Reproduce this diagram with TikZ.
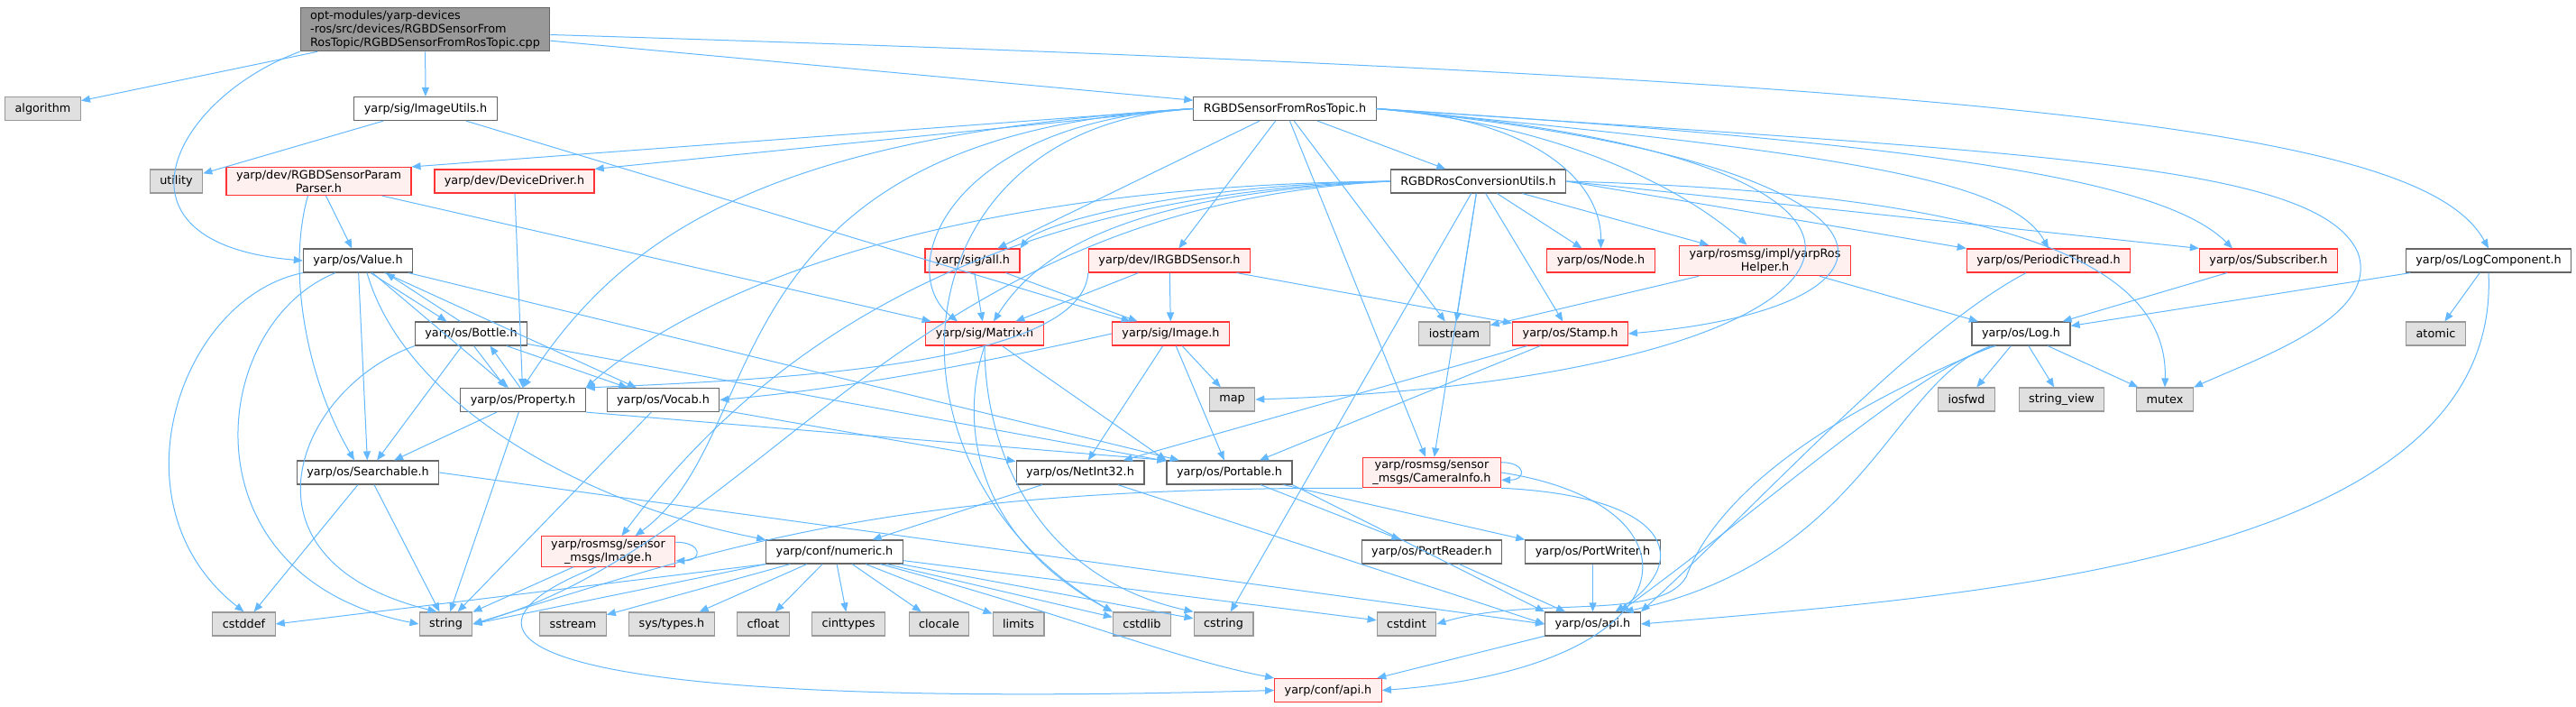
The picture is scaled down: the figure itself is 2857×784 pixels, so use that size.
\documentclass[tikz,border=0pt]{standalone}
\usepackage{fontspec}
\setmainfont{DejaVu Sans}
\usetikzlibrary{arrows.meta}
\definecolor{azulSeta}{HTML}{63B8FF}
\definecolor{bordaCinza}{HTML}{666666}
\definecolor{bordaSis}{HTML}{999999}
\definecolor{fundoSis}{HTML}{E0E0E0}
\definecolor{bordaVerm}{HTML}{FF3333}
\definecolor{fundoVerm}{HTML}{FFF0F0}
\definecolor{fundoPrinc}{HTML}{999999}

\begin{document}
\begin{tikzpicture}[
    x=1pt, y=-1pt,
    bloco/.style={
        draw=bordaCinza,
        fill=white,
        line width=1.2pt,
        font=\fontsize{12.8}{15}\selectfont,
        align=center,
        inner xsep=11pt,
        inner ysep=3pt,
        minimum height=26pt
    },
    blocoSis/.style={bloco, draw=bordaSis, fill=fundoSis},
    blocoVerm/.style={bloco, draw=bordaVerm, fill=fundoVerm},
    blocoPrinc/.style={bloco, fill=fundoPrinc, align=left},
    seta/.style={
        -{Triangle[length=10pt,width=8pt]},
        draw=azulSeta,
        fill=none,
        line width=1pt
    }
]

\useasboundingbox (0,0) rectangle (2857,784);

% Arquivo principal
\node[blocoPrinc] (main) at (471.5,32.5)
{
    opt-modules/yarp-devices\\
    -ros/src/devices/RGBDSensorFrom\\
    RosTopic/RGBDSensorFromRosTopic.cpp
};

% Primeira fila
\node[blocoSis] (algo) at (47.5,120.5) {algorithm};
\node[bloco] (imgutils) at (472,120.5) {yarp/sig/ImageUtils.h};
\node[bloco] (rft) at (1425,120.5) {RGBDSensorFromRosTopic.h};

% Segunda fila
\node[blocoSis] (utility) at (195.5,201) {utility};
\node[blocoVerm] (param) at (353.5,201) {yarp/dev/RGBDSensorParam\\Parser.h};
\node[blocoVerm] (devdrv) at (570.5,201) {yarp/dev/DeviceDriver.h};
\node[bloco] (rcu) at (1639.5,201) {RGBDRosConversionUtils.h};

% Terceira fila
\node[bloco] (value) at (397,289) {yarp/os/Value.h};
\node[blocoVerm] (sigall) at (1078.5,289) {yarp/sig/all.h};
\node[blocoVerm] (irgbd) at (1297,289) {yarp/dev/IRGBDSensor.h};
\node[blocoVerm] (node) at (1775.5,289) {yarp/os/Node.h};
\node[blocoVerm] (roshelper) at (1957.5,289) {yarp/rosmsg/impl/yarpRos\\Helper.h};
\node[blocoVerm] (pthread) at (2272,289) {yarp/os/PeriodicThread.h};
\node[blocoVerm] (subscr) at (2516,289) {yarp/os/Subscriber.h};
\node[bloco] (logcomp) at (2760,289) {yarp/os/LogComponent.h};

% Quarta fila
\node[bloco] (bottle) at (522.5,370) {yarp/os/Bottle.h};
\node[blocoVerm] (matrix) at (1092,370) {yarp/sig/Matrix.h};
\node[blocoVerm] (sigimg) at (1298.5,370) {yarp/sig/Image.h};
\node[blocoSis] (iostream) at (1613,370) {iostream};
\node[blocoVerm] (stamp) at (1741.5,370) {yarp/os/Stamp.h};
\node[bloco] (log) at (2241.5,370) {yarp/os/Log.h};
\node[blocoSis] (atomic) at (2701.5,370) {atomic};

% Quinta fila
\node[bloco] (prop) at (580,443.5) {yarp/os/Property.h};
\node[bloco] (vocab) at (735.5,443.5) {yarp/os/Vocab.h};
\node[blocoSis] (map) at (1366.5,443) {map};
\node[blocoSis] (iosfwd) at (2181,443) {iosfwd};
\node[blocoSis] (strview) at (2286.5,443) {string\_view};
\node[blocoSis] (mutex) at (2401,443) {mutex};

% Sexta fila
\node[bloco] (search) at (408,524) {yarp/os/Searchable.h};
\node[bloco] (netint) at (1198,524) {yarp/os/NetInt32.h};
\node[bloco] (portable) at (1363.5,524) {yarp/os/Portable.h};
\node[blocoVerm] (caminfo) at (1588,524) {yarp/rosmsg/sensor\\\_msgs/CameraInfo.h};

% Setima fila
\node[blocoVerm] (rosimg) at (674.5,611.5) {yarp/rosmsg/sensor\\\_msgs/Image.h};
\node[bloco] (numeric) at (925.5,612) {yarp/conf/numeric.h};
\node[bloco] (preader) at (1588,612) {yarp/os/PortReader.h};
\node[bloco] (pwriter) at (1766.5,612) {yarp/os/PortWriter.h};

% Cabecalhos do sistema
\node[blocoSis] (cstddef) at (270.5,692) {cstddef};
\node[blocoSis] (string) at (494.5,692) {string};
\node[blocoSis] (sstream) at (635.5,692) {sstream};
\node[blocoSis] (systypes) at (745,692) {sys/types.h};
\node[blocoSis] (cfloat) at (846.5,692) {cfloat};
\node[blocoSis] (cinttypes) at (941,692) {cinttypes};
\node[blocoSis] (clocale) at (1041.5,692) {clocale};
\node[blocoSis] (limits) at (1129.5,692) {limits};
\node[blocoSis] (cstdlib) at (1266.5,692) {cstdlib};
\node[blocoSis] (cstring) at (1357,692) {cstring};
\node[blocoSis] (cstdint) at (1560,692) {cstdint};
\node[bloco] (osapi) at (1766.5,692) {yarp/os/api.h};
\node[blocoVerm] (confapi) at (1473,765.5) {yarp/conf/api.h};

% Setas do arquivo principal
\draw[seta] (main) -- (algo);
\draw[seta] (main) -- (imgutils);
\draw[seta] (main.south west) .. controls (190,110) and (110,270) .. (value.west);
\draw[seta] (main) -- (rft);
\draw[seta] ([yshift=-6pt]main.east) .. controls (2300,90) and (2690,150) .. (logcomp.north);

% Setas de ImageUtils e dos parsers
\draw[seta] (imgutils) -- (utility);
\draw[seta] (imgutils) -- (sigimg);
\draw[seta] (param) -- (value);
\draw[seta] ([xshift=-12pt]param.south) .. controls (318,300) and (340,420) .. ([xshift=-15pt]search.north);
\draw[seta] (param) -- (matrix);
\draw[seta] (devdrv) -- (prop);

% Setas de RGBDSensorFromRosTopic.h
\draw[seta] (rft.west) -- (param.north east);
\draw[seta] (rft.west) -- (devdrv.north east);
\draw[seta] (rft.west) .. controls (850,150) and (690,260) .. (prop.north);
\draw[seta] (rft.west) .. controls (780,150) and (860,480) .. ([xshift=30pt]rosimg.north);
\draw[seta] (rft) -- (sigall);
\draw[seta] (rft.west) .. controls (1050,135) and (990,300) .. ([xshift=-30pt]matrix.north);
\draw[seta] (rft) -- (irgbd);
\draw[seta] (rft) -- (rcu);
\draw[seta] (rft) -- (iostream);
\draw[seta] (rft) -- (caminfo);
\draw[seta] (rft.west) .. controls (990,140) and (960,520) .. (cstdlib.north west);
\draw[seta] (rft.east) .. controls (1700,130) and (1776,200) .. (node.north);
\draw[seta] (rft.east) .. controls (1750,140) and (1880,220) .. ([xshift=-20pt]roshelper.north);
\draw[seta] (rft.east) .. controls (2050,170) and (2230,200) .. (pthread.north);
\draw[seta] (rft.east) .. controls (2150,160) and (2400,200) .. ([xshift=-40pt]subscr.north);
\draw[seta] (rft.east) .. controls (2150,180) and (2150,340) .. (stamp.east);
\draw[seta] (rft.east) .. controls (2250,180) and (2100,420) .. (map.east);
\draw[seta] (rft.east) .. controls (2250,170) and (2570,180) .. (2615,280)
    .. controls (2640,350) and (2510,395) .. (mutex.north east);

% Setas de RGBDRosConversionUtils.h
\draw[seta] (rcu.west) .. controls (1300,205) and (1150,250) .. (sigall.north east);
\draw[seta] (rcu.west) .. controls (1250,215) and (1150,280) .. ([xshift=10pt]matrix.north);
\draw[seta] (rcu.west) .. controls (1100,205) and (800,300) .. (prop.north east);
\draw[seta] (rcu.west) .. controls (1100,215) and (850,380) .. ([xshift=15pt]rosimg.north);
\draw[seta] (rcu.west) .. controls (1000,230) and (850,600) .. (string.east);
\draw[seta] (rcu) -- (iostream);
\draw[seta] (rcu) -- (stamp);
\draw[seta] (rcu) -- (node);
\draw[seta] (rcu) -- (roshelper);
\draw[seta] (rcu.east) -- (pthread.north west);
\draw[seta] (rcu.east) -- (subscr.north west);
\draw[seta] (rcu.east) .. controls (2250,215) and (2405,300) .. (mutex.north);
\draw[seta] (rcu) -- (cstring);
\draw[seta] (rcu) -- (caminfo);

% Setas de sig e dev
\draw[seta] (sigall) -- (matrix);
\draw[seta] (sigall) -- (sigimg);
\draw[seta] (irgbd) -- (matrix);
\draw[seta] (irgbd) -- (sigimg);
\draw[seta] (irgbd) -- (stamp);
\draw[seta] (irgbd.south west) .. controls (1200,400) and (900,420) .. (prop.north east);
\draw[seta] (sigimg) -- (map);
\draw[seta] (sigimg) -- (netint);
\draw[seta] (sigimg) -- (portable);
\draw[seta] (sigimg.west) .. controls (1100,400) and (950,430) .. (vocab.east);
\draw[seta] (matrix) -- (portable.north west);
\draw[seta] (matrix.south) .. controls (1060,480) and (1090,600) .. (cstdlib.north west);
\draw[seta] (matrix.south) .. controls (1092,500) and (1150,640) .. (cstring.north west);

% Setas de Stamp, Helper e threads
\draw[seta] (stamp) -- (netint);
\draw[seta] (stamp) -- (portable);
\draw[seta] (roshelper) -- (iostream);
\draw[seta] (roshelper) -- (log);
\draw[seta] ([xshift=-25pt]pthread.south) .. controls (2120,370) and (1950,560) .. (osapi.north east);

% Setas de Log
\draw[seta] (log) -- (iosfwd);
\draw[seta] (log) -- (strview);
\draw[seta] (log) -- (mutex);
\draw[seta] ([xshift=-28pt]log.south) .. controls (2130,405) and (1960,560) .. ([xshift=30pt]osapi.north);
\draw[seta] ([xshift=-30pt]log.south) .. controls (2000,470) and (1900,560) .. (1870,640)
    .. controls (1840,690) and (1700,660) .. (cstdint.east);
\draw[seta] ([xshift=-33pt]log.south) .. controls (2100,420) and (2070,620) .. ([xshift=35pt]osapi.north);
\draw[seta] (subscr) -- (log);
\draw[seta] (logcomp) -- (log);
\draw[seta] (logcomp) -- (atomic);
\draw[seta] (logcomp.south) .. controls (2775,620) and (2200,660) .. (osapi.east);

% Setas de Value, Bottle e Property
\draw[seta] (value.south west) .. controls (200,330) and (120,560) .. (cstddef.north);
\draw[seta] ([xshift=-25pt]value.south) .. controls (230,360) and (200,640) .. (string.west);
\draw[seta] (value) -- (search);
\draw[seta] ([xshift=14pt]value.south) -- ([xshift=-27pt]bottle.north);
\draw[seta] ([xshift=-12pt]bottle.north) -- ([xshift=31pt]value.south);
\draw[seta] (value) -- (prop);
\draw[seta] (value) -- (vocab);
\draw[seta] (value) -- (portable);
\draw[seta] ([xshift=10pt]value.south) .. controls (450,450) and (650,560) .. (numeric.north west);
\draw[seta] ([xshift=3pt]bottle.south) -- ([xshift=-19pt]prop.north);
\draw[seta] ([xshift=-3pt]prop.north) -- ([xshift=21pt]bottle.south);
\draw[seta] (bottle) -- (search);
\draw[seta] (bottle.south west) .. controls (330,430) and (250,620) .. ([xshift=-10pt]string.north);
\draw[seta] (bottle) -- (vocab);
\draw[seta] (bottle) -- (portable);
\draw[seta] (prop) -- (search);
\draw[seta] (prop) -- (string);
\draw[seta] (prop.south east) -- (portable.north west);
\draw[seta] (vocab) -- (string);
\draw[seta] (vocab) -- (netint);

% Setas de Searchable e das mensagens ROS
\draw[seta] (search) -- (cstddef);
\draw[seta] (search) -- (string);
\draw[seta] (search.east) -- (osapi.west);
\draw[seta] ([yshift=-7pt]rosimg.north east) .. controls +(30,0) and +(30,0) .. ([yshift=7pt]rosimg.south east);
\draw[seta] (rosimg) -- (string);
\draw[seta] ([xshift=-13pt]rosimg.south) .. controls (480,700) and (540,790) .. (confapi.west);
\draw[seta] ([yshift=-6pt]caminfo.north east) .. controls +(28,0) and +(28,0) .. ([yshift=9pt]caminfo.south east);
\draw[seta] (caminfo.south west) .. controls (1000,540) and (820,600) .. (string.east);
\draw[seta] (caminfo.south east) .. controls (1850,550) and (1880,620) .. ([xshift=25pt]osapi.north);
\draw[seta] (caminfo.east) .. controls (1900,560) and (1880,740) .. (confapi.east);

% Setas de numeric
\draw[seta] (numeric.south west) -- (cstddef.east);
\draw[seta] (numeric.south west) -- (string.east);
\draw[seta] (numeric) -- (sstream);
\draw[seta] (numeric) -- (systypes);
\draw[seta] (numeric) -- (cfloat);
\draw[seta] (numeric) -- (cinttypes);
\draw[seta] (numeric) -- (clocale);
\draw[seta] (numeric) -- (limits);
\draw[seta] (numeric) -- (cstdlib);
\draw[seta] (numeric) -- (cstring);
\draw[seta] (numeric) -- (cstdint);
\draw[seta] (numeric) .. controls (1180,680) and (1300,730) .. (confapi.north west);

% Setas de NetInt32, Portable e api
\draw[seta] (netint) -- (numeric);
\draw[seta] (netint) -- (osapi.west);
\draw[seta] (portable) -- (preader);
\draw[seta] (portable) -- (pwriter.north west);
\draw[seta] (portable.south east) -- (osapi.north west);
\draw[seta] (preader) -- (osapi);
\draw[seta] (pwriter) -- (osapi);
\draw[seta] (osapi) -- (confapi);

\end{tikzpicture}
\end{document}
